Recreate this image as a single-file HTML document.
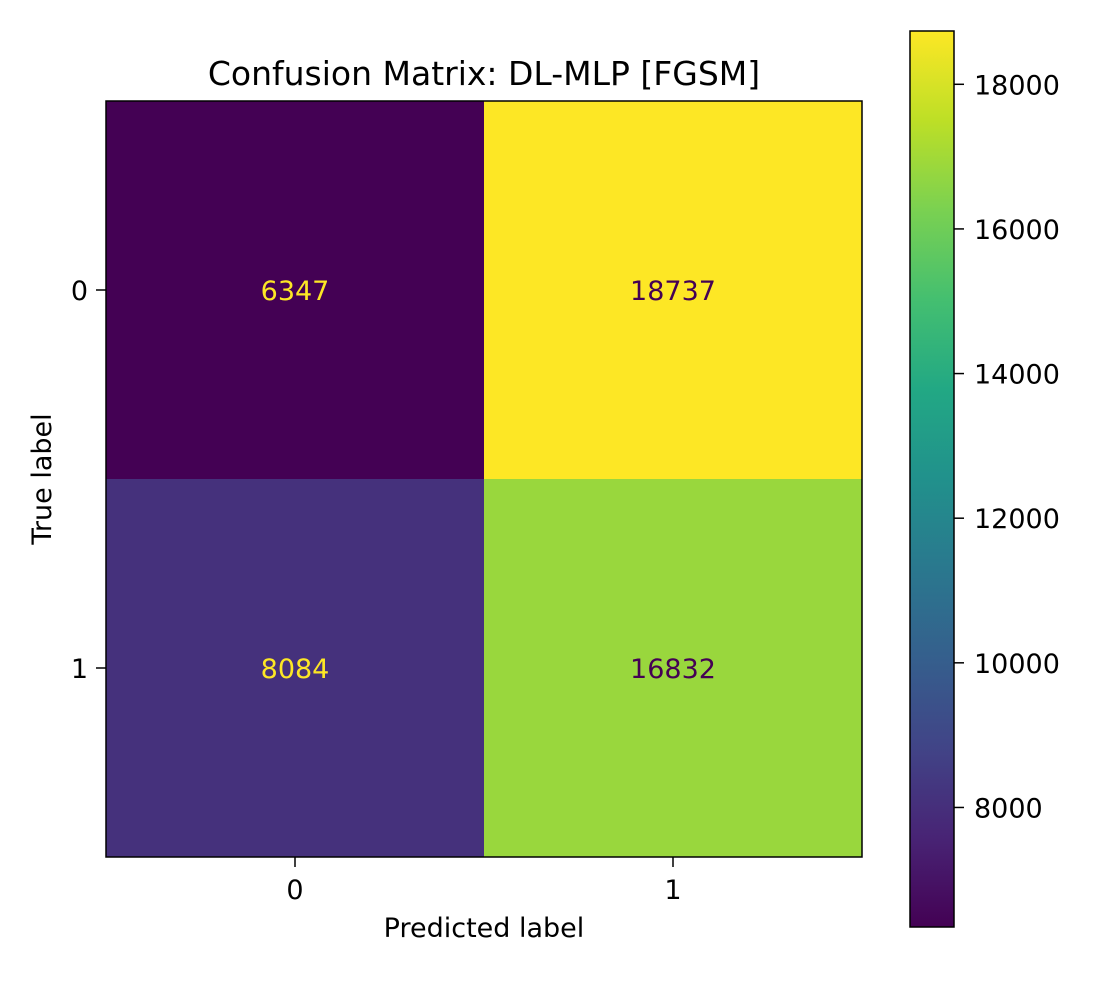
<!DOCTYPE html>
<html><head><meta charset="utf-8"><style>
body{margin:0;background:#fff;}
svg text{font-family:"DejaVu Sans","Liberation Sans",sans-serif;}
</style></head><body>
<svg id="chart" width="1100" height="1000" xmlns="http://www.w3.org/2000/svg">
<defs>
<linearGradient id="vir" x1="0" y1="1" x2="0" y2="0">
<stop offset="0" stop-color="#440154"/><stop offset="0.1" stop-color="#482475"/>
<stop offset="0.2" stop-color="#414487"/><stop offset="0.3" stop-color="#355f8d"/>
<stop offset="0.4" stop-color="#2a788e"/><stop offset="0.5" stop-color="#21918c"/>
<stop offset="0.6" stop-color="#22a884"/><stop offset="0.7" stop-color="#44bf70"/>
<stop offset="0.8" stop-color="#7ad151"/><stop offset="0.9" stop-color="#bddf26"/>
<stop offset="1" stop-color="#fde725"/>
</linearGradient>
</defs>
<text x="484" y="85" font-size="33" text-anchor="middle">Confusion Matrix: DL-MLP [FGSM]</text>
<g id="cells"></g>
<rect x="106" y="101" width="756" height="756" fill="none" stroke="#000" stroke-width="1.5"/>
<g id="axes"></g>
<text x="484" y="937" font-size="27" text-anchor="middle">Predicted label</text>
<text x="51" y="479" font-size="27" text-anchor="middle" transform="rotate(-90 51 479)">True label</text>
<rect x="910" y="31" width="44" height="896" fill="url(#vir)" stroke="#000" stroke-width="1.5"/>
<g id="cbticks"></g>
</svg>
<script>
const classes = ["0","1"];
const values = [[6347,18737],[8084,16832]];
const cbTicks = [8000,10000,12000,14000,16000,18000];
const NS="http://www.w3.org/2000/svg";
const vstops=["#440154","#482475","#414487","#355f8d","#2a788e","#21918c","#22a884","#44bf70","#7ad151","#bddf26","#fde725"];
function hex(h){return [1,3,5].map(i=>parseInt(h.substr(i,2),16));}
function viridis(t){t=Math.max(0,Math.min(1,t));const p=t*10,i=Math.min(9,Math.floor(p)),f=p-i;const a=hex(vstops[i]),b=hex(vstops[i+1]);return "rgb("+a.map((v,k)=>Math.round(v+(b[k]-v)*f)).join(",")+")";}
const flat=values.flat(),vmin=Math.min(...flat),vmax=Math.max(...flat);
const X0=106,Y0=101,S=756,n=classes.length,cw=S/n;
function mk(tag,attrs,parent){const e=document.createElementNS(NS,tag);for(const k in attrs)e.setAttribute(k,attrs[k]);parent.appendChild(e);return e;}
const cells=document.getElementById('cells'),axes=document.getElementById('axes'),cb=document.getElementById('cbticks');
values.forEach((row,r)=>row.forEach((v,c)=>{
 const t=(v-vmin)/(vmax-vmin);
 const rc=mk('rect',{x:X0+c*cw,y:Y0+r*cw,width:cw,height:cw,fill:viridis(t)},cells);
 
 
 const tx=mk('text',{x:X0+(c+0.5)*cw,y:Y0+(r+0.5)*cw+10,'font-size':27,'text-anchor':'middle',fill:t<0.5?'#fde725':'#440154'},cells);
 tx.textContent=v;
 
 
}));
classes.forEach((lab,i)=>{
 const p=X0+(i+0.5)*cw;
 mk('line',{x1:p,x2:p,y1:Y0+S,y2:Y0+S+10,stroke:'#000','stroke-width':1.5},axes);
 const t=mk('text',{x:p,y:Y0+S+42,'font-size':27,'text-anchor':'middle'},axes);t.textContent=lab;
 
 
 const q=Y0+(i+0.5)*cw;
 mk('line',{x1:X0-10,x2:X0,y1:q,y2:q,stroke:'#000','stroke-width':1.5},axes);
 const u=mk('text',{x:X0-18,y:q+10,'font-size':27,'text-anchor':'end'},axes);u.textContent=lab;
 
 
});
cbTicks.forEach(v=>{
 const y=31+(vmax-v)/(vmax-vmin)*896;
 mk('line',{x1:954,x2:964,y1:y,y2:y,stroke:'#000','stroke-width':1.5},cb);
 const t=mk('text',{x:974,y:y+10,'font-size':27},cb);t.textContent=v;
 
 
});
</script>
</body></html>
